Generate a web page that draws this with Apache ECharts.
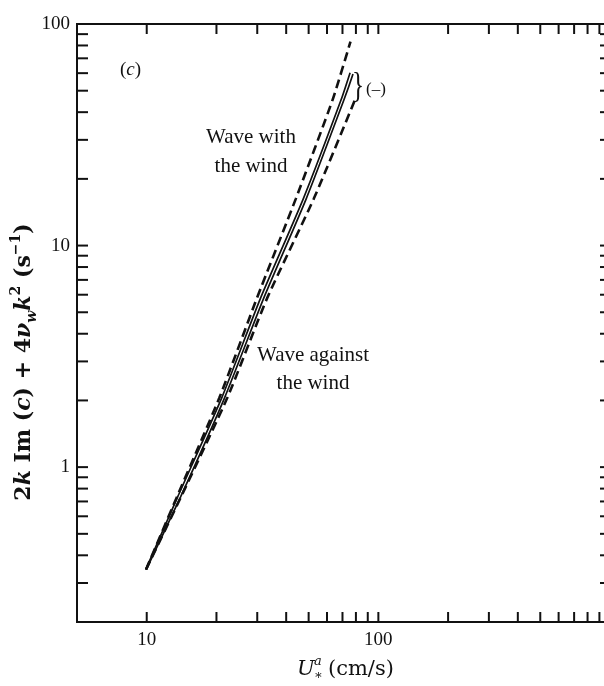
<!DOCTYPE html>
<html>
<head>
<meta charset="utf-8">
<script src="https://cdn.jsdelivr.net/npm/echarts@6/dist/echarts.min.js"></script>
<style>
  html, body { margin: 0; padding: 0; background: #fff; }
  #chart { width: 604px; height: 686px; }
</style>
</head>
<body>
<div id="chart"></div>
<script>
// Friction velocity U*^a (cm/s) and growth-rate ordinate (1/s) for each curve
const withWindDashedU = [9.93, 13.5, 20.6, 29.9, 44.0, 63.5, 75.8];
const withWindDashedRate = [0.345, 0.734, 2.06, 5.79, 16.25, 45.6, 83.3];

const solidUpperU = [9.9, 13.6, 21.1, 31.0, 47.4, 69.1, 75.5];
const solidUpperRate = [0.345, 0.734, 2.06, 5.79, 16.25, 45.6, 60.3];

const solidLowerU = [9.95, 14.0, 21.7, 32.0, 48.8, 71.1, 77.7];
const solidLowerRate = [0.345, 0.734, 2.06, 5.79, 16.25, 45.6, 59.5];

const againstWindDashedU = [9.93, 14.06, 22.3, 33.1, 52.6, 79.7];
const againstWindDashedRate = [0.345, 0.734, 2.06, 5.79, 16.25, 46.1];

// Axis ranges, tick positions and labelled ticks
const xRange = [5, 1000];
const yRange = [0.2, 100];
const xTicks = [10, 20, 30, 40, 50, 60, 70, 80, 90, 100, 200, 300, 400, 500, 600, 700, 800, 900];
const yTicks = [0.3, 0.4, 0.5, 0.6, 0.7, 0.8, 0.9, 1, 2, 3, 4, 5, 6, 7, 8, 9, 10, 20, 30, 40, 50, 60, 70, 80, 90];
const xTickLabels = [10, 100];
const yTickLabels = [1, 10, 100];

const INK = '#111';
const SERIF = '"Liberation Serif", "DejaVu Serif", serif';
const TICK_LEN = 10;

function pairs(xs, ys) {
  return xs.map((x, i) => [x, ys[i]]);
}
function isListed(v, list) {
  return list.some(t => Math.abs(v - t) < 1e-6 * t);
}

// Inward tick marks on bottom and top edges
function xTickItem(params, api) {
  const cs = params.coordSys;
  const px = api.coord([api.value(0), api.value(1)])[0];
  const st = { stroke: INK, lineWidth: 2 };
  return {
    type: 'group',
    children: [
      { type: 'line', shape: { x1: px, y1: cs.y + cs.height, x2: px, y2: cs.y + cs.height - TICK_LEN }, style: st },
      { type: 'line', shape: { x1: px, y1: cs.y, x2: px, y2: cs.y + TICK_LEN }, style: st }
    ]
  };
}
// Inward tick marks on left and right edges
function yTickItem(params, api) {
  const cs = params.coordSys;
  const py = api.coord([api.value(0), api.value(1)])[1];
  const st = { stroke: INK, lineWidth: 2 };
  return {
    type: 'group',
    children: [
      { type: 'line', shape: { x1: cs.x, y1: py, x2: cs.x + TICK_LEN + 1, y2: py }, style: st },
      { type: 'line', shape: { x1: cs.x + cs.width, y1: py, x2: cs.x + cs.width - TICK_LEN, y2: py }, style: st }
    ]
  };
}

const chart = echarts.init(document.getElementById('chart'), null, { renderer: 'canvas' });

const dashed = { color: INK, width: 2.6, type: [9, 5] };
const solid = { color: INK, width: 1.7, type: 'solid' };

const option = {
  backgroundColor: '#fff',
  animation: false,
  grid: {
    left: 77, top: 24, width: 533, height: 598,
    outerBoundsMode: 'none', containLabel: false,
    show: true, borderColor: INK, borderWidth: 2, backgroundColor: 'transparent'
  },
  xAxis: {
    type: 'log', logBase: 10, min: xRange[0], max: xRange[1],
    axisLine: { show: false }, axisTick: { show: false }, splitLine: { show: false },
    axisLabel: {
      margin: 9, color: INK, fontFamily: SERIF, fontSize: 19,
      formatter: v => (isListed(v, xTickLabels) ? String(Math.round(v)) : '')
    }
  },
  yAxis: {
    type: 'log', logBase: 10, min: yRange[0], max: yRange[1],
    axisLine: { show: false }, axisTick: { show: false }, splitLine: { show: false },
    axisLabel: {
      margin: 7, color: INK, fontFamily: SERIF, fontSize: 19,
      formatter: v => (isListed(v, yTickLabels) ? String(Math.round(v)) : '')
    }
  },
  series: [
    { type: 'line', data: pairs(withWindDashedU, withWindDashedRate), showSymbol: false, smooth: 0.2, lineStyle: dashed, silent: true },
    { type: 'line', data: pairs(solidUpperU, solidUpperRate), showSymbol: false, smooth: 0.2, lineStyle: solid, silent: true },
    { type: 'line', data: pairs(solidLowerU, solidLowerRate), showSymbol: false, smooth: 0.2, lineStyle: solid, silent: true },
    { type: 'line', data: pairs(againstWindDashedU, againstWindDashedRate), showSymbol: false, smooth: 0.2, lineStyle: dashed, silent: true },
    { type: 'custom', renderItem: xTickItem, data: xTicks.map(v => [v, yRange[0]]), silent: true, clip: false },
    { type: 'custom', renderItem: yTickItem, data: yTicks.map(v => [xRange[0], v]), silent: true, clip: false }
  ],
  graphic: [
    {
      type: 'text', x: 120, y: 70,
      style: {
        text: '{n|(}{i|c}{n|)}', textAlign: 'left', textVerticalAlign: 'middle',
        rich: {
          n: { fontFamily: SERIF, fontSize: 19, fill: INK },
          i: { fontFamily: SERIF, fontSize: 19, fontStyle: 'italic', fill: INK }
        }
      }
    },
    {
      type: 'text', x: 251, y: 152,
      style: {
        text: 'Wave with\nthe wind', textAlign: 'center', textVerticalAlign: 'middle',
        font: '21px ' + SERIF, lineHeight: 29, fill: INK
      }
    },
    {
      type: 'text', x: 313, y: 369,
      style: {
        text: 'Wave against\nthe wind', textAlign: 'center', textVerticalAlign: 'middle',
        font: '21px ' + SERIF, lineHeight: 28, fill: INK
      }
    },
    {
      type: 'text', x: 358, y: 88, scaleX: 0.7,
      style: { text: '}', textAlign: 'center', textVerticalAlign: 'middle', font: '36px ' + SERIF, fill: INK }
    },
    {
      type: 'text', x: 376, y: 90,
      style: { text: '(–)', textAlign: 'center', textVerticalAlign: 'middle', font: '17px ' + SERIF, fill: INK }
    },
    {
      type: 'text', x: 24, y: 362, rotation: Math.PI / 2,
      style: {
        text: '{b|2}{i|k}{b| Im (}{i|c}{b|) + 4}{i|ν}{sub|w}{i|k}{sup|2}{b| (s}{sup|−1}{b|)}',
        textAlign: 'center', textVerticalAlign: 'middle',
        rich: {
          b: { fontFamily: 'DejaVu Serif', fontSize: 22, fontWeight: 'bold', fill: INK, lineHeight: 30 },
          i: { fontFamily: 'DejaVu Serif', fontSize: 22, fontWeight: 'bold', fontStyle: 'italic', fill: INK, lineHeight: 30 },
          sup: { fontFamily: 'DejaVu Serif', fontSize: 14, fontWeight: 'bold', fill: INK, verticalAlign: 'top', lineHeight: 30 },
          sub: { fontFamily: 'DejaVu Serif', fontSize: 14, fontWeight: 'bold', fontStyle: 'italic', fill: INK, verticalAlign: 'bottom', lineHeight: 30 }
        }
      }
    },
    {
      type: 'group', x: 297, y: 670,
      children: [
        { type: 'text', x: 0, y: 0, style: { text: 'U', textAlign: 'left', textVerticalAlign: 'middle', font: 'italic 21px "DejaVu Serif", serif', fill: INK } },
        { type: 'text', x: 17, y: -8, style: { text: 'a', textAlign: 'left', textVerticalAlign: 'middle', font: 'italic 13px "DejaVu Serif", serif', fill: INK } },
        { type: 'text', x: 17, y: 6, style: { text: '∗', textAlign: 'left', textVerticalAlign: 'middle', font: '13px "DejaVu Serif", serif', fill: INK } },
        { type: 'text', x: 31, y: 0, style: { text: '(cm/s)', textAlign: 'left', textVerticalAlign: 'middle', font: '21px "DejaVu Serif", serif', fill: INK } }
      ]
    }
  ]
};

chart.setOption(option);
</script>
</body>
</html>
